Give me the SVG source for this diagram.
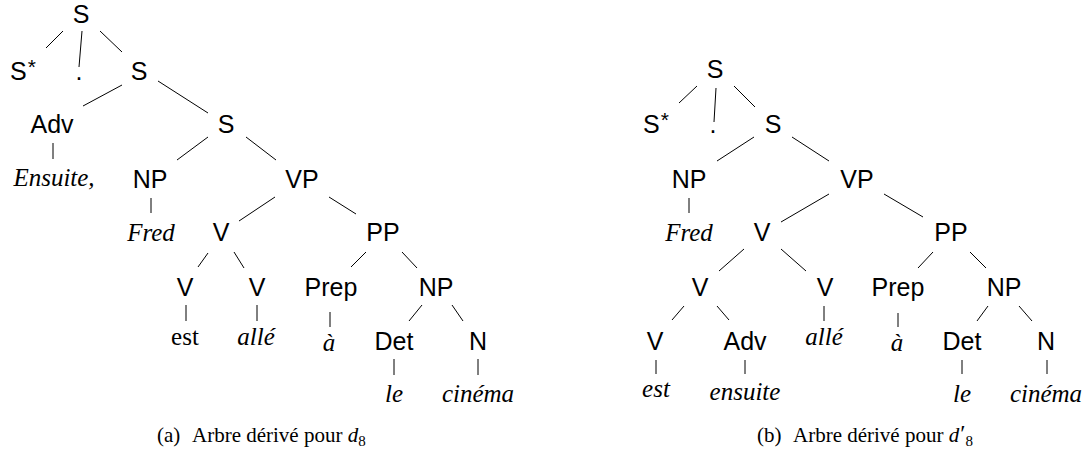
<svg xmlns="http://www.w3.org/2000/svg" width="1092" height="457" viewBox="0 0 1092 457">
<style>
.l{font-family:"Liberation Sans",Arial,sans-serif;font-size:25px;fill:#000;text-anchor:middle}
.w{font-family:"Liberation Serif","Times New Roman",serif;font-size:25px;font-style:italic;fill:#000;text-anchor:middle}
.u{font-family:"Liberation Serif","Times New Roman",serif;font-size:25px;fill:#000;text-anchor:middle}
.c{font-family:"Liberation Serif","Times New Roman",serif;font-size:21px;fill:#000}
.e line{stroke:#000;stroke-width:1}
</style>
<rect width="1092" height="457" fill="#fff"/>
<g id="edges-a" class="e">
<line x1="63" y1="31" x2="46" y2="48"/>
<line x1="82" y1="31" x2="79" y2="67"/>
<line x1="100" y1="31" x2="122" y2="52"/>
<line x1="122" y1="85" x2="83" y2="106"/>
<line x1="158" y1="81" x2="208" y2="113"/>
<line x1="53" y1="143" x2="53" y2="159"/>
<line x1="208" y1="137" x2="177" y2="160"/>
<line x1="246" y1="137" x2="276" y2="160"/>
<line x1="151" y1="198" x2="151" y2="213"/>
<line x1="275" y1="197" x2="239" y2="221"/>
<line x1="329" y1="197" x2="356" y2="214"/>
<line x1="208" y1="253" x2="198" y2="267"/>
<line x1="234" y1="252" x2="244" y2="268"/>
<line x1="366" y1="252" x2="351" y2="267"/>
<line x1="402" y1="252" x2="417" y2="268"/>
<line x1="186" y1="305" x2="186" y2="321"/>
<line x1="257" y1="305" x2="257" y2="321"/>
<line x1="330" y1="312" x2="330" y2="327"/>
<line x1="422" y1="305" x2="409" y2="321"/>
<line x1="452" y1="305" x2="463" y2="321"/>
<line x1="394" y1="359" x2="394" y2="375"/>
<line x1="478" y1="359" x2="478" y2="375"/>
</g>
<g id="edges-b" class="e">
<line x1="697" y1="86" x2="679" y2="103"/>
<line x1="716" y1="88" x2="714" y2="122"/>
<line x1="734" y1="86" x2="755" y2="107"/>
<line x1="754" y1="137" x2="717" y2="161"/>
<line x1="792" y1="137" x2="829" y2="161"/>
<line x1="689" y1="198" x2="689" y2="213"/>
<line x1="829" y1="194" x2="781" y2="222"/>
<line x1="884" y1="194" x2="923" y2="217"/>
<line x1="744" y1="249" x2="719" y2="271"/>
<line x1="781" y1="249" x2="806" y2="271"/>
<line x1="933" y1="252" x2="918" y2="268"/>
<line x1="970" y1="252" x2="986" y2="268"/>
<line x1="684" y1="306" x2="672" y2="320"/>
<line x1="717" y1="306" x2="729" y2="320"/>
<line x1="824" y1="306" x2="824" y2="321"/>
<line x1="898" y1="313" x2="898" y2="327"/>
<line x1="988" y1="306" x2="977" y2="321"/>
<line x1="1019" y1="306" x2="1032" y2="321"/>
<line x1="656" y1="360" x2="656" y2="374"/>
<line x1="745" y1="360" x2="745" y2="374"/>
<line x1="962" y1="360" x2="962" y2="374"/>
<line x1="1047" y1="360" x2="1047" y2="374"/>
</g>
<g id="tree-a">
<g id="a-S0"><text class="l" x="81" y="23">S</text></g>
<g id="a-Sstar"><text class="l" x="10" y="80" style="text-anchor:start">S<tspan font-size="21" dx="1" dy="-6">*</tspan></text></g>
<g id="a-dot"><text class="l" x="79" y="80">.</text></g>
<g id="a-S1"><text class="l" x="139" y="80">S</text></g>
<g id="a-Adv"><text class="l" x="52" y="133">Adv</text></g>
<g id="a-Ensuite"><text class="w" x="54" y="186">Ensuite,</text></g>
<g id="a-S2"><text class="l" x="226" y="133">S</text></g>
<g id="a-NP"><text class="l" x="150" y="188">NP</text></g>
<g id="a-VP"><text class="l" x="302" y="188">VP</text></g>
<g id="a-Fred"><text class="w" x="151" y="241">Fred</text></g>
<g id="a-V"><text class="l" x="221" y="241">V</text></g>
<g id="a-PP"><text class="l" x="383" y="241">PP</text></g>
<g id="a-V1"><text class="l" x="185" y="296">V</text></g>
<g id="a-V2"><text class="l" x="257" y="296">V</text></g>
<g id="a-Prep"><text class="l" x="331" y="296">Prep</text></g>
<g id="a-NP2"><text class="l" x="436" y="296">NP</text></g>
<g id="a-est"><text class="u" x="185" y="345">est</text></g>
<g id="a-alle"><text class="w" x="256" y="345">allé</text></g>
<g id="a-a"><text class="w" x="329" y="351">à</text></g>
<g id="a-Det"><text class="l" x="394" y="350">Det</text></g>
<g id="a-N"><text class="l" x="478" y="350">N</text></g>
<g id="a-le"><text class="w" x="394" y="402">le</text></g>
<g id="a-cinema"><text class="w" x="478" y="402">cinéma</text></g>
<g id="a-caption"><text class="c" x="157" y="442">(a)</text><text class="c" x="192" y="442">Arbre dérivé pour <tspan font-style="italic">d</tspan><tspan font-size="15" dy="4">8</tspan></text></g>
</g>
<g id="tree-b">
<g id="b-S0"><text class="l" x="715" y="78">S</text></g>
<g id="b-Sstar"><text class="l" x="643" y="133" style="text-anchor:start">S<tspan font-size="21" dx="1" dy="-6">*</tspan></text></g>
<g id="b-dot"><text class="l" x="713" y="133">.</text></g>
<g id="b-S1"><text class="l" x="773" y="133">S</text></g>
<g id="b-NP"><text class="l" x="689" y="188">NP</text></g>
<g id="b-VP"><text class="l" x="857" y="188">VP</text></g>
<g id="b-Fred"><text class="w" x="689" y="241">Fred</text></g>
<g id="b-V"><text class="l" x="762" y="241">V</text></g>
<g id="b-PP"><text class="l" x="951" y="241">PP</text></g>
<g id="b-V1"><text class="l" x="700" y="296">V</text></g>
<g id="b-V2"><text class="l" x="825" y="296">V</text></g>
<g id="b-Prep"><text class="l" x="898" y="296">Prep</text></g>
<g id="b-NP2"><text class="l" x="1004" y="296">NP</text></g>
<g id="b-V3"><text class="l" x="655" y="350">V</text></g>
<g id="b-Adv"><text class="l" x="745" y="350">Adv</text></g>
<g id="b-alle"><text class="w" x="824" y="345">allé</text></g>
<g id="b-a"><text class="w" x="897" y="351">à</text></g>
<g id="b-Det"><text class="l" x="962" y="350">Det</text></g>
<g id="b-N"><text class="l" x="1046" y="350">N</text></g>
<g id="b-est"><text class="w" x="656" y="397">est</text></g>
<g id="b-ensuite"><text class="w" x="745" y="400">ensuite</text></g>
<g id="b-le"><text class="w" x="962" y="402">le</text></g>
<g id="b-cinema"><text class="w" x="1046" y="402">cinéma</text></g>
<g id="b-caption"><text class="c" x="757" y="442">(b)</text><text class="c" x="793" y="442">Arbre dérivé pour <tspan font-style="italic">d</tspan><tspan font-size="24" dx="1" dy="-1">′</tspan><tspan font-size="15" dy="5">8</tspan></text></g>
</g>
</svg>
